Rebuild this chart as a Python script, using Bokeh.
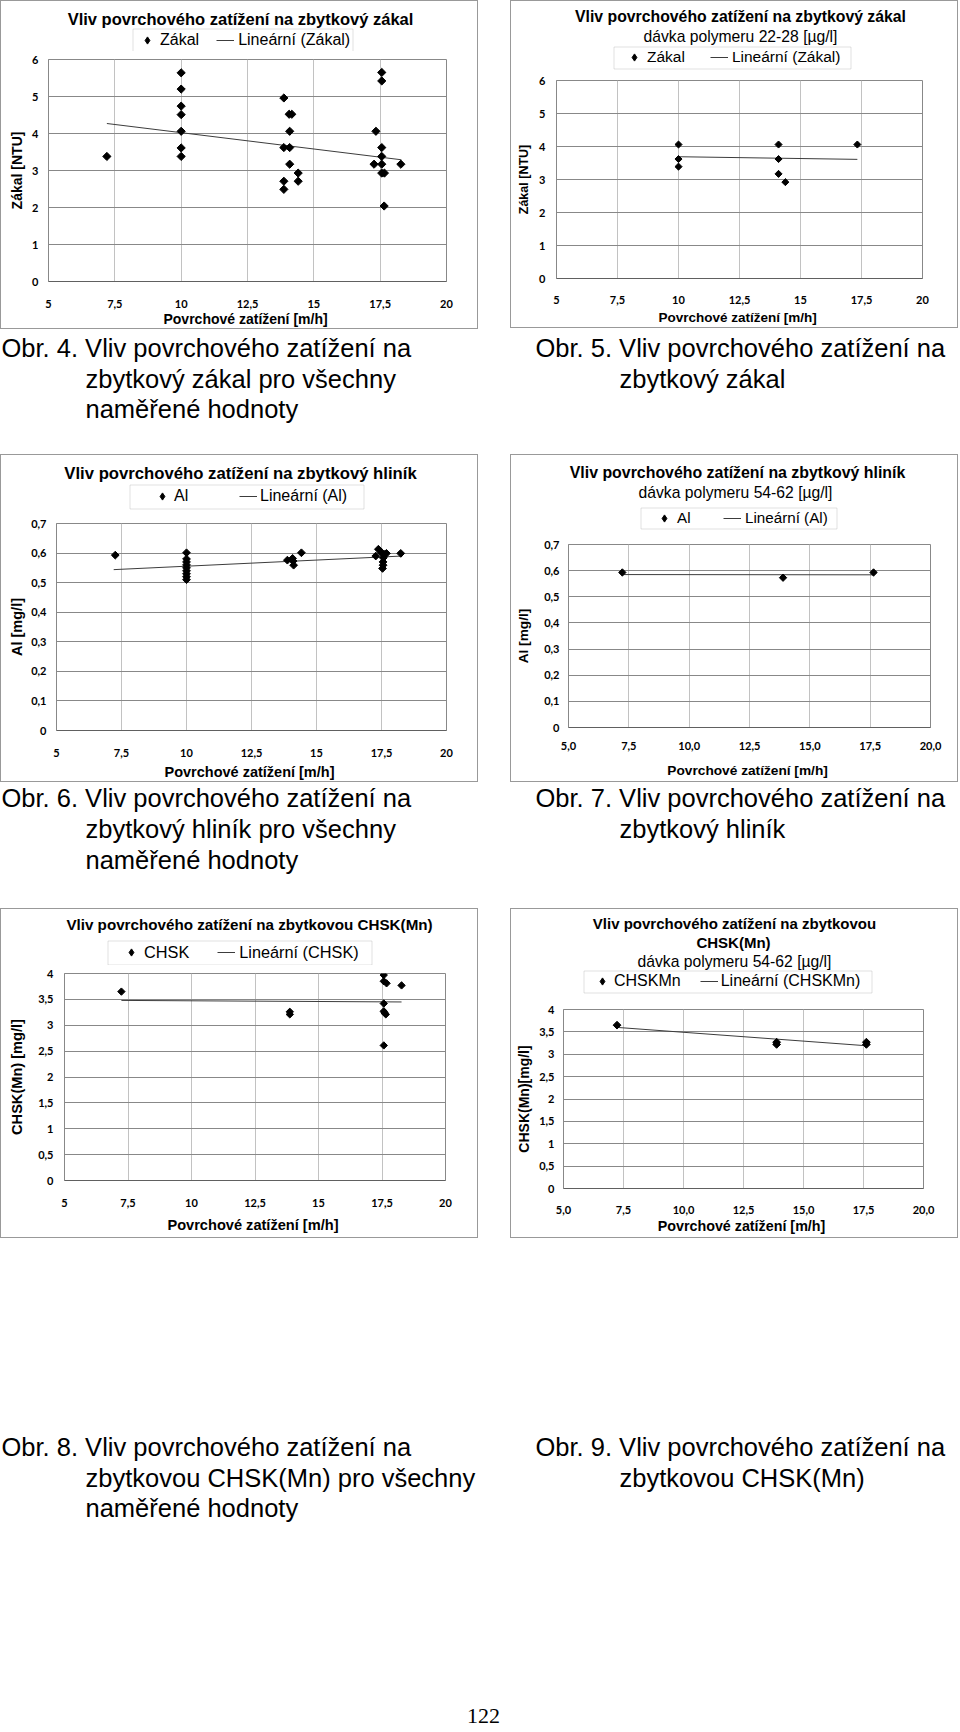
import numpy as np
from bokeh.plotting import figure
from bokeh.models import (Range1d, FixedTicker, Legend, LegendItem, Label,
                          BoxAnnotation, Spacer)
from bokeh.layouts import column, row
from bokeh.embed import file_html
from bokeh.resources import INLINE

# ---------------- data ----------------
X_TICKS = [5, 7.5, 10, 12.5, 15, 17.5, 20]
X_LABELS_INT = ["5", "7,5", "10", "12,5", "15", "17,5", "20"]
X_LABELS_DEC = ["5,0", "7,5", "10,0", "12,5", "15,0", "17,5", "20,0"]
ZAKAL_TICKS = [0, 1, 2, 3, 4, 5, 6]
ZAKAL_LABELS = ["0", "1", "2", "3", "4", "5", "6"]
AL_TICKS = [0, 0.1, 0.2, 0.3, 0.4, 0.5, 0.6, 0.7]
AL_LABELS = ["0", "0,1", "0,2", "0,3", "0,4", "0,5", "0,6", "0,7"]
CHSK_TICKS = [0, 0.5, 1, 1.5, 2, 2.5, 3, 3.5, 4]
CHSK_LABELS = ["0", "0,5", "1", "1,5", "2", "2,5", "3", "3,5", "4"]

X_TITLE = "Povrchové zatížení  [m/h]"

# Obr. 4 - zákal, všechny hodnoty
obr4_x = [7.2, 10, 10, 10, 10, 10, 10, 10,
          13.87, 13.87, 13.87, 13.87, 14.07, 14.17, 14.09, 14.09, 14.09, 14.41, 14.41,
          17.34, 17.27, 17.56, 17.56, 17.56, 17.56, 17.56, 17.56, 17.66, 17.65, 18.28]
obr4_y = [3.38, 5.64, 5.20, 4.74, 4.51, 4.06, 3.61, 3.38,
          4.96, 3.62, 2.71, 2.49, 4.52, 4.52, 4.06, 3.62, 3.17, 2.93, 2.71,
          4.06, 3.17, 5.65, 5.42, 3.62, 3.38, 3.17, 2.93, 2.93, 2.04, 3.17]
obr4_trend_x = [7.2, 18.3]
obr4_trend_y = [4.27, 3.29]

# Obr. 5 - zákal, dávka polymeru 22-28
obr5_x = [10, 10, 10, 14.1, 14.1, 14.1, 14.38, 17.33]
obr5_y = [4.06, 3.62, 3.39, 4.06, 3.62, 3.17, 2.92, 4.06]
obr5_trend_x = [10, 17.33]
obr5_trend_y = [3.69, 3.61]

# Obr. 6 - hliník, všechny hodnoty
obr6_x = [7.26, 10, 10, 10, 10, 10, 10, 10, 10, 10,
          13.88, 14.08, 14.1, 14.12, 14.42,
          17.28, 17.38, 17.51, 17.6, 17.57, 17.56, 17.56, 17.54, 17.69, 18.24]
obr6_y = [0.593, 0.601, 0.58, 0.57, 0.56, 0.55, 0.54, 0.53, 0.52, 0.51,
          0.576, 0.582, 0.573, 0.559, 0.601,
          0.590, 0.613, 0.601, 0.596, 0.584, 0.570, 0.559, 0.548, 0.599, 0.599]
obr6_trend_x = [7.2, 18.3]
obr6_trend_y = [0.544, 0.590]

# Obr. 7 - hliník, dávka polymeru 54-62
obr7_x = [7.23, 13.89, 17.64]
obr7_y = [0.593, 0.573, 0.593]
obr7_trend_x = [7.23, 17.64]
obr7_trend_y = [0.585, 0.584]

# Obr. 8 - CHSK(Mn), všechny hodnoty
obr8_x = [7.24, 13.87, 13.87, 17.57, 17.57, 17.68, 17.57, 17.57, 17.6, 17.65, 17.57, 18.27]
obr8_y = [3.65, 3.26, 3.21, 3.97, 3.85, 3.81, 3.42, 3.27, 3.24, 3.21, 2.61, 3.77]
obr8_trend_x = [7.24, 18.27]
obr8_trend_y = [3.48, 3.45]

# Obr. 9 - CHSK(Mn), dávka polymeru 54-62
obr9_x = [7.23, 13.88, 13.88, 17.62, 17.62]
obr9_y = [3.65, 3.27, 3.22, 3.27, 3.22]
obr9_trend_x = [7.23, 17.62]
obr9_trend_y = [3.60, 3.19]

CAPTION_4 = ["Obr. 4. Vliv povrchového zatížení na", "zbytkový zákal pro všechny", "naměřené hodnoty"]
CAPTION_5 = ["Obr. 5. Vliv povrchového zatížení na", "zbytkový zákal"]
CAPTION_6 = ["Obr. 6. Vliv povrchového zatížení na", "zbytkový hliník pro všechny", "naměřené hodnoty"]
CAPTION_7 = ["Obr. 7. Vliv povrchového zatížení na", "zbytkový hliník"]
CAPTION_8 = ["Obr. 8. Vliv povrchového zatížení na", "zbytkovou CHSK(Mn) pro všechny", "naměřené hodnoty"]
CAPTION_9 = ["Obr. 9. Vliv povrchového zatížení na", "zbytkovou CHSK(Mn)"]
PAGE_NUMBER = "122"

TITLE_Z = "Vliv povrchového zatížení na zbytkový zákal"
TITLE_AL = "Vliv povrchového zatížení na zbytkový hliník"
SUB_22 = "dávka polymeru 22-28 [µg/l]"
SUB_54 = "dávka polymeru 54-62 [µg/l]"

# ---------------- styling ----------------
GRID_H = "#888888"
GRID_V = "#c2c2c2"
BOX = "#999999"
SANS = "Liberation Sans"
TOP_PAD = 8
GLYPH_W = 18


def make_chart(W, H, frame, xs, ys, tx, ty, x_labels, y_ticks, y_labels, y_max,
               y_title, titles, names, leg, ax, msize):
    fl, ft, fw, fh = frame
    hh = ft - TOP_PAD
    fr = W - fl - fw

    # ---- header: titles and legend (its frame lines up with the plot frame) ----
    hd = figure(width=W, height=hh, toolbar_location=None, title_location=None,
                output_backend="svg", x_range=Range1d(5, 20), y_range=Range1d(0, y_max),
                x_axis_location=None, y_axis_location=None,
                min_border_left=fl, min_border_right=fr,
                min_border_top=0, min_border_bottom=0)
    hd.grid.visible = False
    hd.outline_line_color = None
    hd.background_fill_color = None
    hd.border_fill_color = None
    hln = hd.line(tx, ty, line_color="#3c3c3c", line_width=1, visible=False)
    hpts = hd.scatter(xs, ys, marker="diamond", size=msize + 5,
                      fill_color="black", line_color="black", visible=False)
    for txt, cx, cy, size, style in titles:
        hd.add_layout(Label(x=cx - fl, y=hh - cy, x_units="screen", y_units="screen",
                            text=txt, text_align="center", text_baseline="middle",
                            text_font=SANS, text_font_size=size,
                            text_font_style=style, text_color="black"))
    bx0, by0, bx1, by1, dcx, standoff, spacing, fsize = leg
    gw = GLYPH_W
    cyl = (by0 + by1) / 2
    lg = Legend(items=[LegendItem(label=names[0], renderers=[hpts]),
                       LegendItem(label=names[1], renderers=[hln])],
                orientation="horizontal", location=(dcx - gw / 2 - fl, hh - cyl - 10),
                padding=0, margin=0, spacing=spacing - 2, label_standoff=standoff - 2,
                glyph_width=gw, glyph_height=20, label_height=20,
                border_line_color=None, background_fill_alpha=0,
                inactive_fill_alpha=0,
                label_text_font=SANS, label_text_font_size=fsize,
                label_text_color="black")
    hd.add_layout(lg)
    hd.add_layout(BoxAnnotation(left=bx0 + 0.5 - fl, right=bx1 + 0.5 - fl,
                                top=hh - by0 - 0.5, bottom=hh - by1 - 0.5,
                                left_units="screen", right_units="screen",
                                top_units="screen", bottom_units="screen",
                                fill_alpha=0, fill_color=None,
                                line_color=BOX, line_width=1))

    # ---- plot area ----
    p = figure(frame_width=fw, frame_height=fh, toolbar_location=None,
               title_location=None, output_backend="svg",
               x_range=Range1d(5, 20), y_range=Range1d(0, y_max),
               min_border_left=fl, min_border_top=TOP_PAD,
               min_border_right=fr, min_border_bottom=H - ft - fh)
    p.background_fill_color = "white"
    p.border_fill_color = None
    p.outline_line_color = GRID_H

    xt = FixedTicker(ticks=X_TICKS)
    yt = FixedTicker(ticks=y_ticks)
    xa = p.xaxis[0]
    ya = p.yaxis[0]
    xa.ticker = xt
    ya.ticker = yt
    p.xgrid.ticker = xt
    p.ygrid.ticker = yt
    xa.major_label_overrides = {t: l for t, l in zip(X_TICKS, x_labels)}
    ya.major_label_overrides = {t: l for t, l in zip(y_ticks, y_labels)}
    for a in (xa, ya):
        a.major_tick_in = 0
        a.major_tick_out = 0
        a.minor_tick_in = 0
        a.minor_tick_out = 0
        a.major_tick_line_color = None
        a.minor_tick_line_color = None
        a.major_label_text_font = "Lato"
        a.major_label_text_font_style = "bold"
        a.major_label_text_font_size = "11px"
        a.major_label_text_color = "black"
        a.axis_label_text_font = SANS
        a.axis_label_text_font_style = "bold"
        a.axis_label_text_color = "black"
    xa.axis_label = X_TITLE
    ya.axis_label = y_title
    xa.axis_line_color = "#606060"
    ya.axis_line_color = GRID_H
    xa.major_label_standoff = ax["xs"]
    xa.axis_label_standoff = ax["xt"]
    ya.major_label_standoff = ax["ys"]
    ya.axis_label_standoff = ax["yt"]
    xa.axis_label_text_font_size = ax["xf"]
    ya.axis_label_text_font_size = ax["yf"]
    p.xgrid.grid_line_color = GRID_V
    p.ygrid.grid_line_color = GRID_H

    p.line(tx, ty, line_color="#3c3c3c", line_width=1)
    p.scatter(xs, ys, marker="square", size=msize, angle=np.pi / 4,
              fill_color="black", line_color="black")

    return column(hd, p, styles={"outline": "1px solid " + BOX, "outline-offset": "-1px"})


def caption_fig(W, H, blocks, extra=None):
    p = figure(width=W, height=H, toolbar_location=None, title_location=None,
               output_backend="svg", x_range=Range1d(0, 1), y_range=Range1d(0, 1),
               x_axis_location=None, y_axis_location=None, min_border=0)
    p.grid.visible = False
    p.outline_line_color = None
    p.background_fill_color = None
    p.border_fill_color = None
    for lines, x0, ys in blocks:
        for i, txt in enumerate(lines):
            x = x0 if i == 0 else x0 + 84
            p.add_layout(Label(x=x, y=H - ys[i], x_units="screen", y_units="screen",
                               text=txt, text_baseline="middle", text_font=SANS,
                               text_font_size="25.5px", text_color="black"))
    if extra is not None:
        txt, x, y = extra
        p.add_layout(Label(x=x, y=H - y, x_units="screen", y_units="screen",
                           text=txt, text_align="center", text_baseline="middle",
                           text_font="Liberation Serif", text_font_size="22px",
                           text_color="black"))
    return p


c1 = make_chart(478, 328, (48, 59, 398, 222), obr4_x, obr4_y, obr4_trend_x, obr4_trend_y,
                X_LABELS_INT, ZAKAL_TICKS, ZAKAL_LABELS, 6, "Zákal [NTU]",
                [(TITLE_Z, 240, 18, "16.5px", "bold")],
                ["Zákal", "Lineární (Zákal)"],
                (132, 28, 352, 51, 147, 6, 19, "16px"),
                dict(xs=18, xt=0, ys=10, yt=4, xf="14px", yf="14px"), 5.8)

c2 = make_chart(448, 328, (46, 80, 366, 198), obr5_x, obr5_y, obr5_trend_x, obr5_trend_y,
                X_LABELS_INT, ZAKAL_TICKS, ZAKAL_LABELS, 6, "Zákal [NTU]",
                [(TITLE_Z, 230, 16, "15.8px", "bold"),
                 (SUB_22, 230, 36, "15.7px", "normal")],
                ["Zákal", "Lineární (Zákal)"],
                (103, 46, 340, 68, 124, 6, 27, "15.5px"),
                dict(xs=17, xt=3, ys=11, yt=5, xf="13.5px", yf="12.5px"), 5.0)

c3 = make_chart(478, 328, (56, 69, 390, 207), obr6_x, obr6_y, obr6_trend_x, obr6_trend_y,
                X_LABELS_INT, AL_TICKS, AL_LABELS, 0.7, "Al [mg/l]",
                [(TITLE_AL, 240, 19, "16.7px", "bold")],
                ["Al", "Lineární (Al)"],
                (129, 30, 363, 54, 162, 5, 47, "16px"),
                dict(xs=18, xt=4, ys=10, yt=3, xf="14.5px", yf="14.5px"), 5.5)

c4 = make_chart(448, 328, (58, 90, 362, 183), obr7_x, obr7_y, obr7_trend_x, obr7_trend_y,
                X_LABELS_DEC, AL_TICKS, AL_LABELS, 0.7, "Al [mg/l]",
                [(TITLE_AL, 227, 18, "15.9px", "bold"),
                 (SUB_54, 225, 38, "15.7px", "normal")],
                ["Al", "Lineární (Al)"],
                (130, 53, 326, 74, 154, 6, 28, "15.2px"),
                dict(xs=14, xt=10, ys=9, yt=10, xf="13.7px", yf="13.7px"), 5.2)

c5 = make_chart(478, 330, (64, 65, 381, 207), obr8_x, obr8_y, obr8_trend_x, obr8_trend_y,
                X_LABELS_INT, CHSK_TICKS, CHSK_LABELS, 4, "CHSK(Mn) [mg/l]",
                [("Vliv povrchového zatížení na zbytkovou CHSK(Mn)", 249, 16, "15.2px", "bold")],
                ["CHSK", "Lineární (CHSK)"],
                (107, 32, 371, 56, 131, 6, 30, "16.3px"),
                dict(xs=18, xt=7, ys=11, yt=10, xf="14.6px", yf="14.6px"), 5.2)

c6 = make_chart(448, 330, (53, 101, 360, 179), obr9_x, obr9_y, obr9_trend_x, obr9_trend_y,
                X_LABELS_DEC, CHSK_TICKS, CHSK_LABELS, 4, "CHSK(Mn)[mg/l]",
                [("Vliv povrchového zatížení na zbytkovou", 224, 15, "15px", "bold"),
                 ("CHSK(Mn)", 223, 34, "15px", "bold"),
                 (SUB_54, 224, 53, "15.7px", "normal")],
                ["CHSKMn", "Lineární (CHSKMn)"],
                (73, 62, 361, 84, 92, 5, 21, "16px"),
                dict(xs=17, xt=1, ys=9, yt=4, xf="14.3px", yf="14px"), 5.5)

capB = caption_fig(958, 125, [(CAPTION_4, 1, [18, 49, 79]), (CAPTION_5, 535, [18, 49])])
capD = caption_fig(958, 126, [(CAPTION_6, 1, [15, 46, 77]), (CAPTION_7, 535, [15, 46])])
capF = caption_fig(958, 490, [(CAPTION_8, 1, [208, 239, 269]), (CAPTION_9, 535, [208, 239])],
                   extra=(PAGE_NUMBER, 483, 477))

layout = column(
    row(c1, Spacer(width=32, height=328), c2),
    capB,
    row(c3, Spacer(width=32, height=328), c4),
    capD,
    row(c5, Spacer(width=32, height=330), c6),
    capF,
)

open("out.html", "w").write(file_html(layout, INLINE, title="Vliv povrchového zatížení"))
